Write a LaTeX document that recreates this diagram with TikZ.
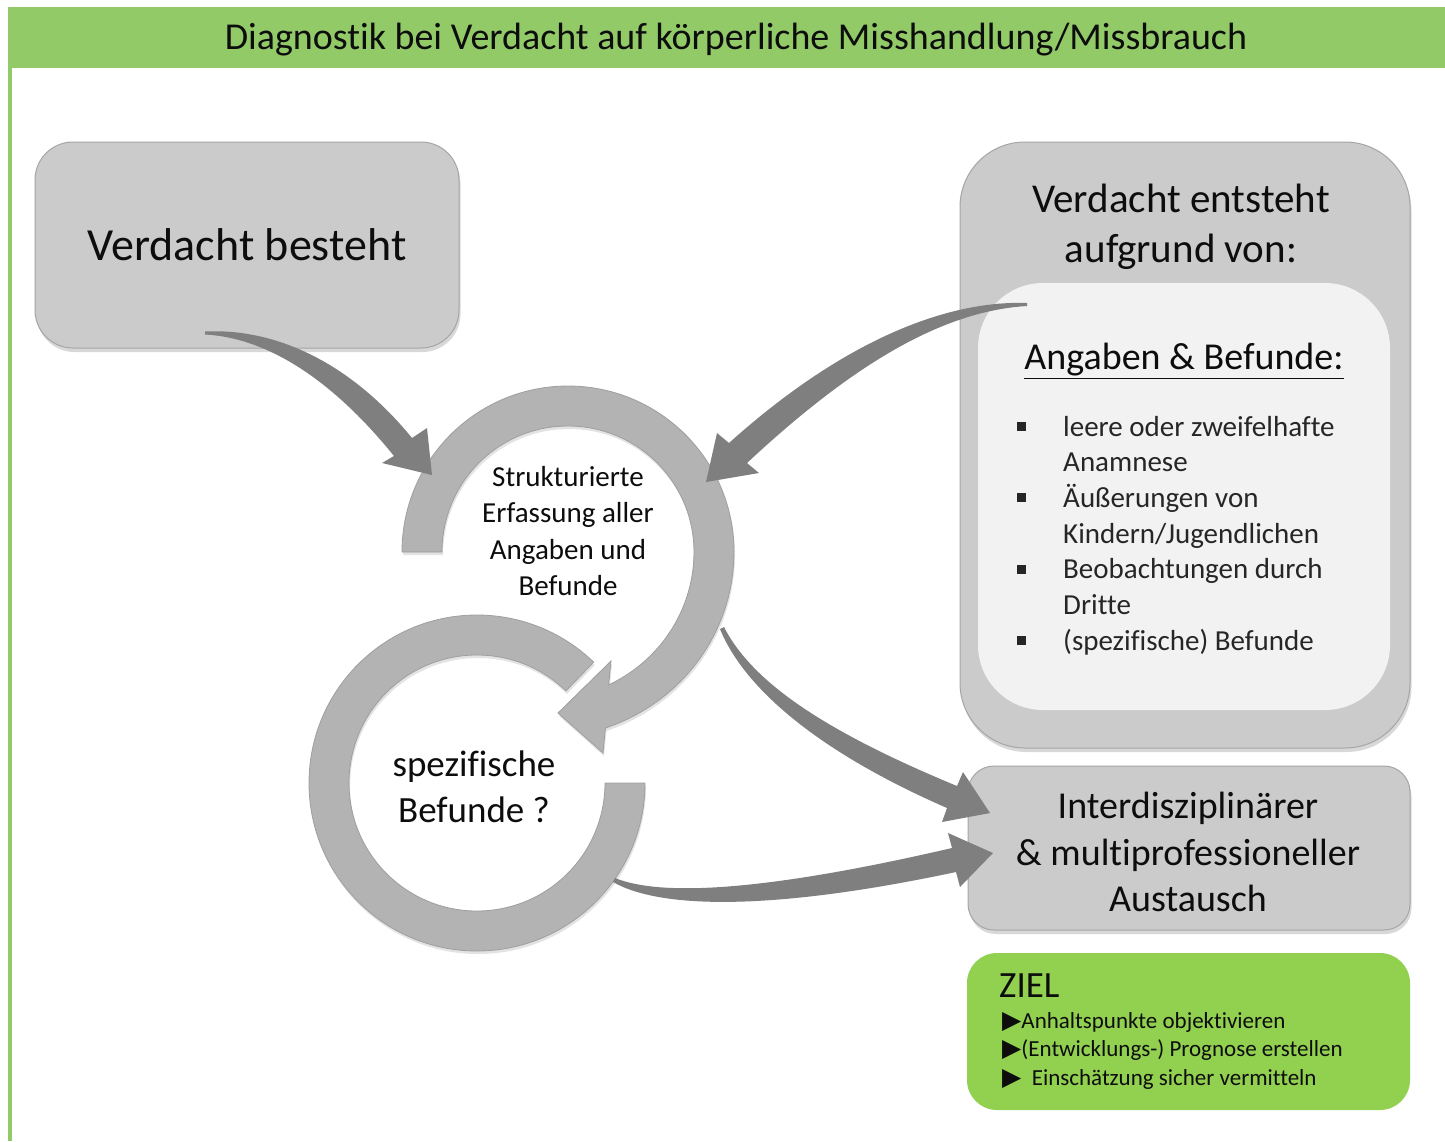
\documentclass[tikz,border=0pt]{standalone}
\usepackage{fontspec}
\setmainfont{Carlito}[Ligatures=NoCommon]
\newfontfamily\symfont{DejaVu Sans}
\usetikzlibrary{shadows,calc}
\definecolor{titlegreen}{HTML}{92CA68}
\definecolor{zielgreen}{HTML}{92D050}
\definecolor{boxgray}{HTML}{CBCBCB}
\definecolor{innergray}{HTML}{F2F2F2}
\definecolor{ringgray}{HTML}{B3B3B3}
\definecolor{conngray}{HTML}{7F7F7F}
\definecolor{txt}{HTML}{0D0D0D}
\newcommand\blt{\rule[5pt]{9pt}{9pt}}
\newcommand\tri{{\symfont\fontsize{25}{28}\selectfont ▶}}
\begin{document}
\begin{tikzpicture}[x=1pt,y=-1pt,
  graybox/.style={fill=boxgray, draw=gray!70, line width=1pt, text=txt,
     drop shadow={opacity=0.3, shadow xshift=1.5pt, shadow yshift=-4pt}},
  ringshape/.style={fill=ringgray, draw=gray!75, line width=0.8pt,
     drop shadow={opacity=0.22, shadow xshift=1pt, shadow yshift=-3pt}},
  conn/.style={fill=conngray},
  lbl/.style={text=txt, align=center, inner sep=0pt}]
\useasboundingbox (0,0) rectangle (1445,1141);
\fill[white] (0,0) rectangle (1445,1141);
% frame
\fill[titlegreen] (8,7) rectangle (1445,68);
\fill[titlegreen] (8,68) rectangle (12,1141);
\node[lbl, font=\fontsize{38}{46}\selectfont] (title) at (736,39.5) {Diagnostik bei Verdacht auf körperliche Misshandlung/Missbrauch};

% boxes
\node[graybox, rounded corners=38pt, minimum width=424pt, minimum height=206pt,
      font=\fontsize{46}{52}\selectfont] (vb) at (247,245) {Verdacht besteht};
\node[graybox, rounded corners=65pt, minimum width=450pt, minimum height=606pt] (ve) at (1185,445) {};
\node[lbl, font=\fontsize{41}{50}\selectfont] (vetext) at (1181,227) {Verdacht entsteht\\aufgrund von:};
\node[fill=innergray, rounded corners=65pt, minimum width=412pt, minimum height=427pt] (inner) at (1184,496.5) {};
\node[lbl, font=\fontsize{38}{44}\selectfont] (ab) at (1184,361) {\underline{Angaben \& Befunde:}};
\node[anchor=base west, inner sep=0pt, text=black!85, font=\fontsize{29}{35.7}\selectfont] (list) at (1017,436)
  {\begin{tabular}[t]{@{}p{46pt}@{}l@{}}
   \blt & leere oder zweifelhafte\\
        & Anamnese\\
   \blt & Äußerungen von\\
        & Kindern/Jugendlichen\\
   \blt & Beobachtungen durch\\
        & Dritte\\
   \blt & (spezifische) Befunde
   \end{tabular}};
\node[graybox, rounded corners=26pt, minimum width=442pt, minimum height=164pt] (ia) at (1189,848) {};
\node[lbl, font=\fontsize{38}{46.5}\selectfont] (iat) at (1188,852)
      {Interdisziplinärer\\\& multiprofessioneller\\Austausch};
\node[fill=zielgreen, rounded corners=30pt, minimum width=443pt, minimum height=157pt] (ziel) at (1188.5,1031.5) {};
\node[anchor=base west, inner sep=0pt, text=txt, font=\fontsize{37}{44}\selectfont] (zielt) at (999,997) {ZIEL};
\node[anchor=base west, inner sep=0pt, text=txt, align=left, font=\fontsize{23}{28.5}\selectfont] (zieli) at (1002,1085)
  {\tri Anhaltspunkte objektivieren\\\tri(Entwicklungs-) Prognose erstellen\\\tri\ \ Einschätzung sicher vermitteln};

% rings
\coordinate (c1) at (568,552);
\coordinate (c2) at (477,783);
\filldraw[ringshape] (c2) ++(0:168) arc[start angle=0, end angle=314, radius=168]
   -- ($(c2)+(314:128)$) arc[start angle=314, end angle=0, radius=128] -- cycle;
\filldraw[ringshape] (c1) ++(180:166) arc[start angle=180, end angle=360, radius=166]
   -- plot[domain=360:438, samples=25] ({568+(166+14*((\x-360)/78)^2)*cos(\x)}, {552+(166+14*((\x-360)/78)^2)*sin(\x)})
   -- (603,753) -- (558,713) -- (611,661)
   -- plot[domain=433:360, samples=25] ({568+(126+13*((\x-360)/73)^2)*cos(\x)}, {552+(126+13*((\x-360)/73)^2)*sin(\x)})
   arc[start angle=360, end angle=180, radius=126] -- cycle;
\node[lbl, font=\fontsize{29}{36.3}\selectfont] (r1) at (568,531) {Strukturierte\\Erfassung aller\\Angaben und\\Befunde};
\node[lbl, font=\fontsize{37}{46}\selectfont] (r2) at (474,787) {spezifische\\Befunde ?};

% connectors
\coordinate (a1t) at (205,333); \coordinate (a1h) at (432,475);
\coordinate (a2t) at (1027,304.5); \coordinate (a2h) at (706,482);
\coordinate (a3t) at (722,628); \coordinate (a3h) at (990,813);
\coordinate (a4t) at (614,880); \coordinate (a4h) at (993,853);
\fill[conn] ($(a1t)+(0,-1.5)$) .. controls (275,328) and (350,362) .. (412,438) -- (427,428) -- (a1h)
   -- (382,463) -- (394,456) .. controls (335,383) and (270,338) .. ($(a1t)+(0,1.5)$) -- cycle;
\fill[conn] ($(a2t)+(0,-1.5)$) .. controls (942,300) and (838,345) .. (729,443) -- (717,433) -- (a2h)
   -- (759,473) -- (747,463) .. controls (852,365) and (942,311) .. ($(a2t)+(0,1.5)$) -- cycle;
\fill[conn] ($(a3t)+(2,-1)$) .. controls (753,684) and (829,733) .. (957,786) -- (963,772) -- (a3h)
   -- (942,822) -- (947,808) .. controls (821,753) and (745,690) .. ($(a3t)+(-2,1)$) -- cycle;
\fill[conn] ($(a4t)+(1,-2)$) .. controls (664,898) and (775,889) .. (952,848) -- (948,833) -- (a4h)
   -- (960,887) -- (956,872) .. controls (777,910) and (662,910) .. ($(a4t)+(-1,2)$) -- cycle;
\end{tikzpicture}
\end{document}
